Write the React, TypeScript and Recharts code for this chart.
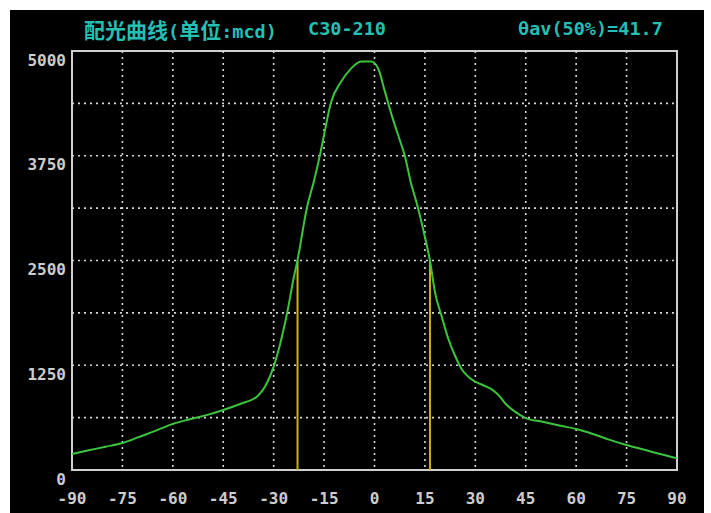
import React from "react";
import { LineChart, Line, XAxis, YAxis, CartesianGrid, ReferenceArea, ReferenceLine } from "recharts";

// angle (deg) and luminous intensity (mcd)
const angles = [
  -90, -85, -80, -75, -70, -65, -60, -55, -50, -45, -40, -35, -32, -30, -28, -26, -24, -22.9, -20, -18, -16, -15,
  -13, -10, -7, -4, -1, 1, 3, 5, 7, 9, 11, 12.3, 15, 16.5, 18, 20, 22, 24, 26, 28, 30, 33, 35, 37, 39, 42, 45, 50,
  55, 60, 65, 70, 75, 80, 85, 90,
];
const intensity = [
  190, 235, 278, 322, 395, 470, 550, 605, 655, 716, 788, 875, 1038, 1233, 1515, 1873, 2300, 2506, 3150, 3450, 3800,
  4000, 4380, 4630, 4790, 4875, 4875, 4800, 4530, 4250, 4000, 3750, 3400, 3222, 2780, 2500, 2120, 1830, 1560, 1360,
  1200, 1110, 1054, 1000, 960, 890, 790, 690, 620, 575, 530, 490, 430, 360, 298, 245, 190, 140,
];

const xTicks = [-90, -75, -60, -45, -30, -15, 0, 15, 30, 45, 60, 75, 90];
const yTicks = [0, 625, 1250, 1875, 2500, 3125, 3750, 4375, 5000];
const yLabels = [0, 1250, 2500, 3750, 5000];

// half-intensity angles (50% markers)
const halfAngles = [-22.9, 16.5];
const halfValue = 2500;

const data = angles.map((a, i) => ({ angle: a, mcd: intensity[i] }));

const FONT = "'DejaVu Sans Mono', 'Noto Sans CJK SC', monospace";
const LABEL = "#cdcdcd";
const TITLE = "#25bfb4";

function YTick(props: any) {
  const v = props.payload.value;
  if (!yLabels.includes(v)) return null;
  return (
    <text x={56} y={props.y + 10} textAnchor="end" dominantBaseline="middle" fill={LABEL} fontFamily={FONT} fontSize={16} fontWeight="bold">
      {v}
    </text>
  );
}

function XTick(props: any) {
  return (
    <text x={props.x} y={489} textAnchor="middle" dominantBaseline="middle" fill={LABEL} fontFamily={FONT} fontSize={16} fontWeight="bold">
      {props.payload.value}
    </text>
  );
}

const titleStyle: React.CSSProperties = {
  position: "absolute",
  top: 8,
  height: 22,
  lineHeight: "22px",
  color: TITLE,
  fontFamily: FONT,
  fontSize: 18.5,
  fontWeight: "bold",
  whiteSpace: "pre",
};
const cjk: React.CSSProperties = { fontSize: 21, fontFamily: "'Noto Sans CJK SC', sans-serif" };

export default function App() {
  return (
    <div style={{ position: "absolute", left: 0, top: 0, width: 711, height: 513, background: "#fff" }}>
      <div style={{ position: "absolute", left: 10, top: 10, width: 694, height: 503, background: "#000" }}>
        <div style={{ ...titleStyle, left: 74 }}>
          <span style={cjk}>配光曲线</span>(<span style={cjk}>单位</span>:mcd)
        </div>
        <div style={{ ...titleStyle, left: 298 }}>C30-210</div>
        <div style={{ ...titleStyle, left: 508 }}>θav(50%)=41.7</div>
        <LineChart
          width={694}
          height={503}
          data={data}
          margin={{ top: 41, right: 27, left: 0, bottom: 0 }}
          style={{ position: "absolute", left: 0, top: 0 }}
        >
          <CartesianGrid stroke="#d8d8d8" strokeDasharray="2 4" strokeWidth={1.6} />
          <XAxis
            type="number"
            dataKey="angle"
            domain={[-90, 90]}
            ticks={xTicks}
            interval={0}
            height={43}
            axisLine={false}
            tickLine={false}
            tick={<XTick />}
          />
          <YAxis
            type="number"
            domain={[0, 5000]}
            ticks={yTicks}
            interval={0}
            width={62}
            axisLine={false}
            tickLine={false}
            tick={<YTick />}
          />
          <ReferenceArea x1={-90} x2={90} y1={0} y2={5000} fill="none" stroke="#d0d0d0" strokeWidth={2} fillOpacity={0} />
          {halfAngles.map((a) => (
            <ReferenceLine
              key={a}
              segment={[
                { x: a, y: 0 },
                { x: a, y: halfValue },
              ]}
              stroke="#c9b300"
              strokeWidth={2}
            />
          ))}
          <Line
            type="monotone"
            dataKey="mcd"
            stroke="#3cc43c"
            strokeWidth={2}
            dot={false}
            isAnimationActive={false}
          />
        </LineChart>
      </div>
    </div>
  );
}
